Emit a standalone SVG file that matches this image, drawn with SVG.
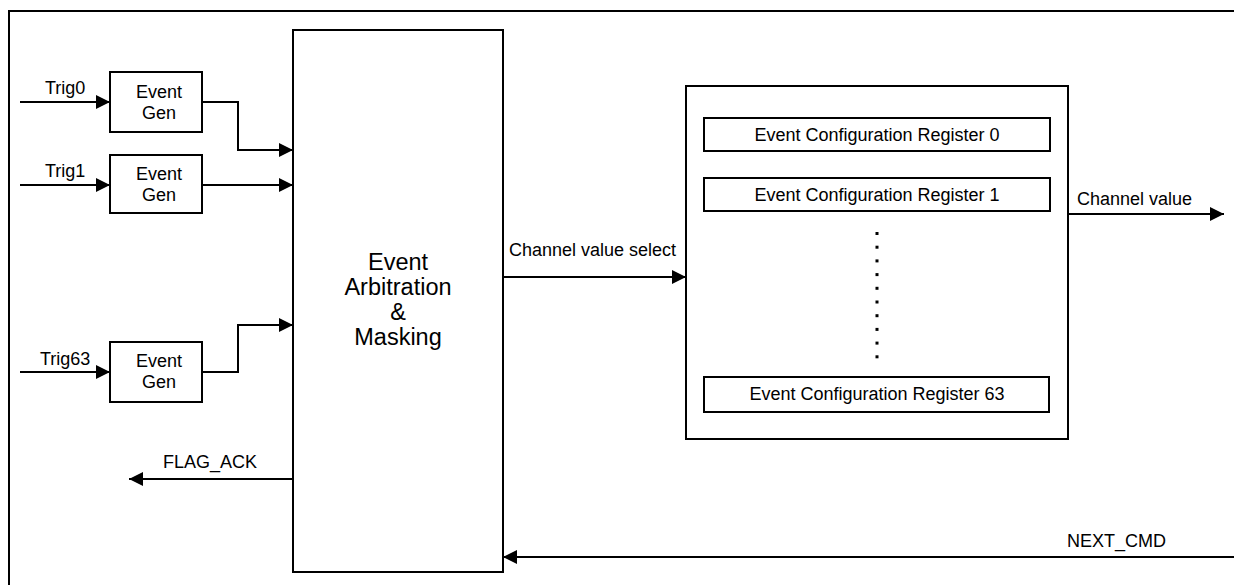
<svg xmlns="http://www.w3.org/2000/svg" width="1234" height="585" viewBox="0 0 1234 585">
<style>
.box{fill:#fff;stroke:#000;stroke-width:2}
.ln{fill:none;stroke:#000;stroke-width:2}
.t{font-family:"Liberation Sans",Arial,sans-serif;font-size:18px;fill:#000}
.big{font-family:"Liberation Sans",Arial,sans-serif;font-size:23.5px;fill:#000}
.m{text-anchor:middle}
</style>
<defs>
<marker id="ah" markerUnits="userSpaceOnUse" markerWidth="14" markerHeight="14" refX="14" refY="7" orient="auto">
<path d="M0,0 L14,7 L0,14 z" fill="#000"/>
</marker>
</defs>
<rect width="1234" height="585" fill="#fff"/>
<path class="ln" d="M9,585 V11 H1234"/>
<g id="arb">
<rect class="box" x="293" y="30" width="210" height="542"/>
<text class="big m" x="398" y="270">Event</text>
<text class="big m" x="398" y="295">Arbitration</text>
<text class="big m" x="398" y="320">&amp;</text>
<text class="big m" x="398" y="345">Masking</text>
</g>
<g id="gen0">
<rect class="box" x="110" y="72" width="92" height="60"/>
<text class="t m" x="159" y="98">Event</text>
<text class="t m" x="159" y="119">Gen</text>
</g>
<g id="gen1">
<rect class="box" x="110" y="155" width="92" height="58"/>
<text class="t m" x="159" y="180">Event</text>
<text class="t m" x="159" y="201">Gen</text>
</g>
<g id="gen63">
<rect class="box" x="110" y="342" width="92" height="60"/>
<text class="t m" x="159" y="367">Event</text>
<text class="t m" x="159" y="388">Gen</text>
</g>
<g id="cfg">
<rect class="box" x="686" y="86" width="382" height="353"/>
<g id="reg0">
<rect class="box" x="704" y="118" width="346" height="33"/>
<text class="t m" x="877" y="141">Event Configuration Register 0</text>
</g>
<g id="reg1">
<rect class="box" x="704" y="178" width="346" height="33"/>
<text class="t m" x="877" y="201">Event Configuration Register 1</text>
</g>
<g id="dots" fill="#000">
<rect x="875.5" y="232" width="3" height="3"/>
<rect x="875.5" y="245.7" width="3" height="3"/>
<rect x="875.5" y="259.4" width="3" height="3"/>
<rect x="875.5" y="273.1" width="3" height="3"/>
<rect x="875.5" y="286.8" width="3" height="3"/>
<rect x="875.5" y="300.5" width="3" height="3"/>
<rect x="875.5" y="314.2" width="3" height="3"/>
<rect x="875.5" y="327.9" width="3" height="3"/>
<rect x="875.5" y="341.6" width="3" height="3"/>
<rect x="875.5" y="355.3" width="3" height="3"/>
</g>
<g id="reg63">
<rect class="box" x="704" y="377" width="345" height="35"/>
<text class="t m" x="877" y="400">Event Configuration Register 63</text>
</g>
</g>
<g id="connectors">
<path class="ln" d="M20,102 H110" marker-end="url(#ah)"/>
<path class="ln" d="M20,185 H110" marker-end="url(#ah)"/>
<path class="ln" d="M20,372 H110" marker-end="url(#ah)"/>
<path class="ln" d="M202,102 H238 V150 H293" marker-end="url(#ah)"/>
<path class="ln" d="M202,185 H293" marker-end="url(#ah)"/>
<path class="ln" d="M202,372 H238 V325 H293" marker-end="url(#ah)"/>
<path class="ln" d="M293,479 H129" marker-end="url(#ah)"/>
<path class="ln" d="M503,277 H686" marker-end="url(#ah)"/>
<path class="ln" d="M1068,214 H1224" marker-end="url(#ah)"/>
<path class="ln" d="M1234,557 H503" marker-end="url(#ah)"/>
<text class="t" x="45" y="94">Trig0</text>
<text class="t" x="45" y="177">Trig1</text>
<text class="t" x="40" y="365">Trig63</text>
<text class="t" x="163" y="468">FLAG_ACK</text>
<text class="t" x="509" y="256">Channel value select</text>
<text class="t" x="1077" y="205">Channel value</text>
<text class="t" x="1067" y="547">NEXT_CMD</text>
</g>
</svg>
